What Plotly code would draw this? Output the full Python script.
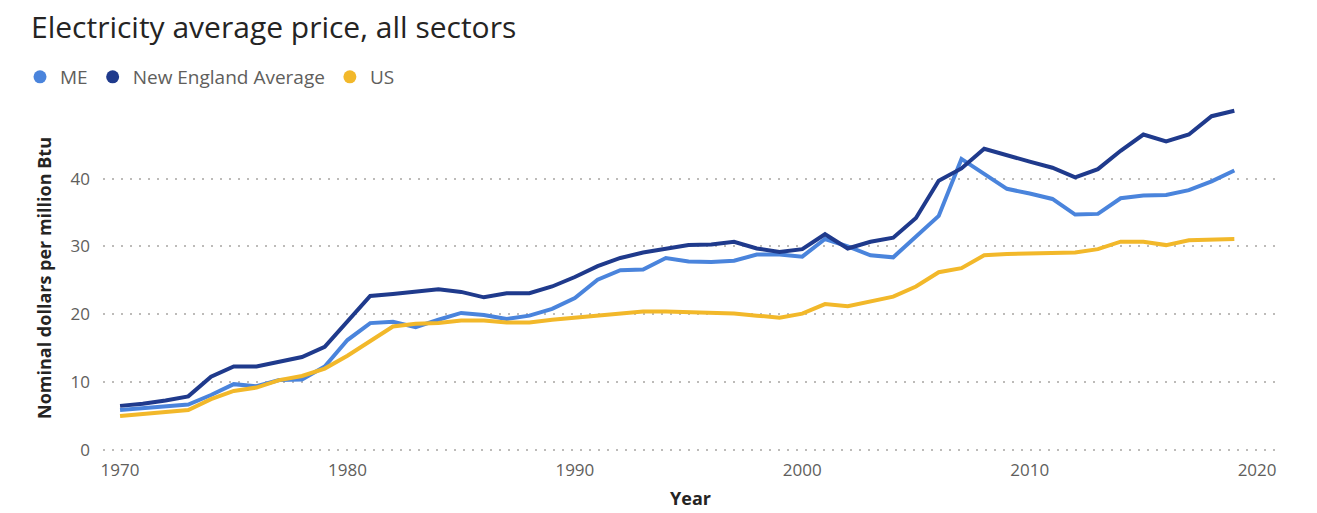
import plotly.graph_objects as go

years = list(range(1970, 2020))

me = [5.9, 6.2, 6.5, 6.7, 8.1, 9.7, 9.4, 10.3, 10.4, 12.3,
      16.2, 18.7, 18.9, 18.1, 19.2, 20.2, 19.9, 19.3, 19.8, 20.8,
      22.4, 25.1, 26.5, 26.6, 28.3, 27.8, 27.7, 27.9, 28.8, 28.8,
      28.5, 31.1, 30.0, 28.7, 28.4, 31.5, 34.5, 42.9, 40.7, 38.5,
      37.8, 37.0, 34.7, 34.8, 37.1, 37.5, 37.6, 38.3, 39.6, 41.2]

ne = [6.5, 6.8, 7.3, 7.9, 10.8, 12.3, 12.3, 13.0, 13.7, 15.2,
      18.9, 22.7, 23.0, 23.3, 23.7, 23.3, 22.5, 23.1, 23.1, 24.1,
      25.5, 27.1, 28.3, 29.1, 29.6, 30.2, 30.3, 30.7, 29.7, 29.2,
      29.6, 31.8, 29.7, 30.7, 31.3, 34.2, 39.7, 41.5, 44.4, 43.4,
      42.5, 41.6, 40.2, 41.4, 44.1, 46.5, 45.5, 46.5, 49.2, 50.0]

us = [5.0, 5.3, 5.5, 5.9, 7.5, 8.7, 9.2, 10.3, 10.9, 12.0,
      13.9, 16.0, 18.2, 18.6, 18.7, 19.1, 19.1, 18.8, 18.8, 19.2,
      19.5, 19.9, 20.1, 20.4, 20.4, 20.3, 20.2, 20.1, 19.8, 19.5,
      20.1, 21.5, 21.2, 21.9, 22.6, 24.1, 26.2, 26.8, 28.7, 28.9,
      29.0, 29.1, 29.1, 29.6, 30.7, 30.7, 30.2, 30.9, 31.0, 31.1]

series_names = ["ME", "New England Average", "US"]
colors = ["#4A84DC", "#1F3A8C", "#F2B82A"]
x_ticks = [1970, 1980, 1990, 2000, 2010, 2020]
y_ticks = [0, 10, 20, 30, 40]

W, H = 1317, 513
FONT = "Open Sans"

fig = go.Figure()
for name, vals, col in zip(series_names, [me, ne, us], colors):
    fig.add_trace(go.Scatter(x=years, y=vals, mode="lines", name=name,
                             line=dict(color=col, width=4),
                             showlegend=False, hoverinfo="x+y+name"))
for name, col in zip(series_names, colors):
    fig.add_trace(go.Scatter(x=[None], y=[None], mode="markers", name=name,
                             marker=dict(color=col, size=13, symbol="circle"),
                             showlegend=True))

fig.update_layout(
    width=W, height=H,
    autosize=False,
    paper_bgcolor="white", plot_bgcolor="white",
    margin=dict(l=103, r=39, t=104, b=61, pad=0),
    font=dict(family=FONT, color="#605E5C", size=17),
    title=dict(text="Electricity average price, all sectors",
               x=31 / W, xref="container", xanchor="left",
               y=1 - 27 / H, yref="container", yanchor="middle",
               font=dict(family=FONT, size=30, color="#252423")),
    legend=dict(orientation="h", xref="container", yref="container",
                x=20 / W, xanchor="left", y=1 - 77 / H, yanchor="middle",
                font=dict(family=FONT, size=19, color="#605E5C"),
                itemwidth=30, tracegroupgap=0, bgcolor="rgba(0,0,0,0)"),
    showlegend=True,
)

fig.update_xaxes(range=[1969.25, 2020.92], tickvals=x_ticks,
                 ticktext=[str(t) for t in x_ticks],
                 showgrid=False, zeroline=False, showline=False,
                 ticks="", ticklabelstandoff=6, automargin=False,
                 tickfont=dict(size=17, color="#605E5C"),
                 title=dict(text="<b>Year</b>", standoff=12,
                            font=dict(size=18, color="#252423")))
fig.update_yaxes(range=[-0.3, 51], tickvals=y_ticks,
                 showgrid=True, gridcolor="#BDBBB9", gridwidth=1.5, griddash="2px,7px",
                 zeroline=False, showline=False, ticks="",
                 ticklabelstandoff=12, automargin=False,
                 tickfont=dict(size=17, color="#605E5C"),
                 title=dict(text="<b>Nominal dollars per million Btu</b>", standoff=14,
                            font=dict(size=18, color="#252423")))

fig.write_html("out.html")
